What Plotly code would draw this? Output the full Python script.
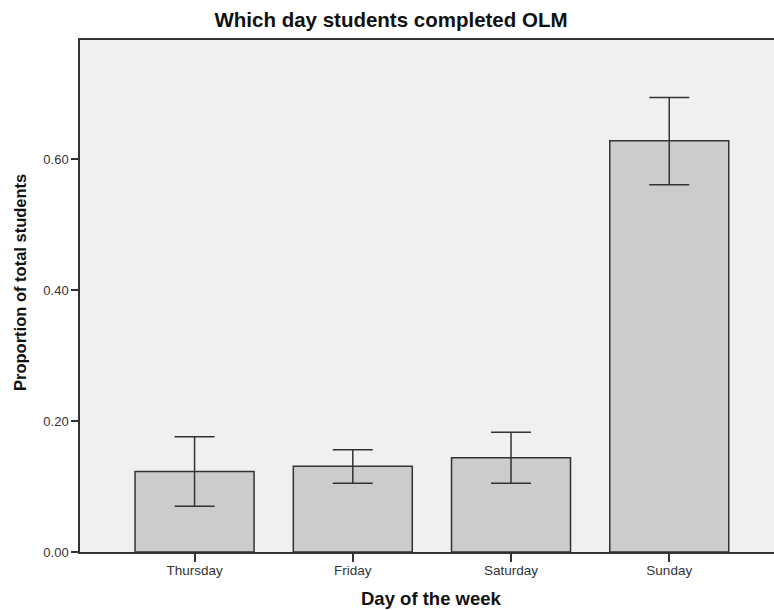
import plotly.graph_objects as go

days = ['Thursday', 'Friday', 'Saturday', 'Sunday']
proportion = [0.123, 0.131, 0.144, 0.628]
ci_upper = [0.176, 0.156, 0.183, 0.694]
ci_lower = [0.070, 0.105, 0.105, 0.561]

err_plus = [u - p for u, p in zip(ci_upper, proportion)]
err_minus = [p - l for p, l in zip(proportion, ci_lower)]

fig = go.Figure()
fig.add_trace(go.Bar(
    x=days,
    y=proportion,
    width=0.752,
    marker=dict(color='#cccccc', line=dict(color='#333333', width=1.5)),
    error_y=dict(
        type='data',
        symmetric=False,
        array=err_plus,
        arrayminus=err_minus,
        color='#333333',
        thickness=1.5,
        width=20
    )
))

fig.update_layout(
    width=774,
    height=610,
    margin=dict(l=80, r=0, t=40, b=58, autoexpand=False),
    paper_bgcolor='white',
    plot_bgcolor='#f0f0f0',
    showlegend=False,
    font=dict(family='Liberation Sans, Arial, sans-serif', color='#333333'),
    title=dict(
        text='<b>Which day students completed OLM</b>',
        x=391 / 774, xanchor='center',
        y=1 - 20 / 610, yanchor='middle',
        font=dict(size=20.5, color='#111111')
    ),
    xaxis=dict(
        range=[-0.724, 3.662],
        showline=True, linecolor='#333333', linewidth=1.5, mirror=True,
        ticks='outside', ticklen=8, tickcolor='#333333', tickwidth=1.5,
        tickfont=dict(size=13.5, color='#333333'),
        ticklabelstandoff=-3,
        showgrid=False, automargin=False
    ),
    yaxis=dict(
        range=[0, 0.782],
        tickvals=[0, 0.2, 0.4, 0.6],
        tickformat='.2f',
        showline=True, linecolor='#333333', linewidth=1.5,
        ticks='outside', ticklen=7, tickcolor='#333333', tickwidth=1.5,
        tickfont=dict(size=13, color='#333333'),
        showgrid=False, zeroline=False, automargin=False
    ),
    annotations=[
        dict(text='<b>Day of the week</b>', xref='paper', yref='paper',
             x=(431 - 80) / 694, y=-(598 - 552) / 512, xanchor='center', yanchor='middle',
             showarrow=False, font=dict(size=18.5, color='#111111')),
        dict(text='<b>Proportion of total students</b>', xref='paper', yref='paper',
             x=-(80 - 20) / 694, y=(552 - 283) / 512, xanchor='center', yanchor='middle',
             textangle=-90, showarrow=False, font=dict(size=16.5, color='#111111'))
    ]
)

fig.write_html("out.html", config={'displayModeBar': False},
               post_script="document.body.style.margin='0';")
